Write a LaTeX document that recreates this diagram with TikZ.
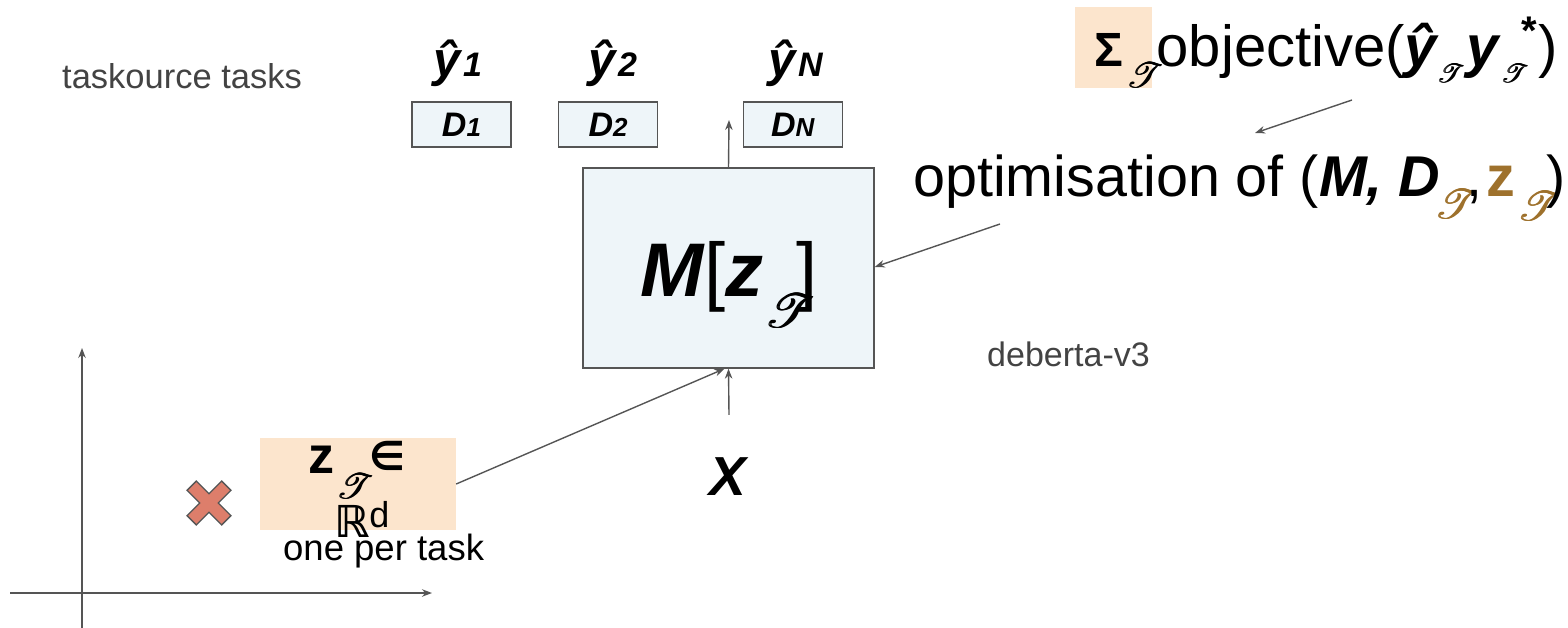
\RequirePackage{fix-cm}
\documentclass[tikz,border=0pt]{standalone}
\usepackage{graphicx}
\usepackage{amssymb}
\usepackage{mathrsfs}
\usepackage{fontspec}
\setmainfont{Liberation Sans}
\newfontfamily\djv{DejaVu Sans}
\usetikzlibrary{arrows.meta}
\definecolor{boxfill}{HTML}{EEF5F9}
\definecolor{linec}{HTML}{555555}
\definecolor{peach}{HTML}{FCE5CD}
\definecolor{brownc}{HTML}{9E712C}
\definecolor{crossc}{HTML}{DD7E6B}
\definecolor{graytext}{HTML}{434343}
\newcommand{\fs}[1]{\fontsize{#1}{#1}\selectfont}
\newcommand{\bit}[1]{\textbf{\textit{#1}}}
\newcommand{\oneT}[1]{\scalebox{#1}{\fs{10}$\mathscr{T}$}}
\newcommand{\bT}[2]{\raisebox{#2}{\rlap{\oneT{#1}}\kern0.7pt\rlap{\oneT{#1}}\kern0.7pt\oneT{#1}}}
\begin{document}
\begin{tikzpicture}[x=1pt,y=-1pt,
  arr/.style={draw=linec, line width=1.4pt, -{Stealth[length=10pt,width=7.5pt]}},
  dbox/.style={draw=linec, fill=boxfill, line width=1.4pt, minimum width=99pt, minimum height=45pt, inner sep=0pt},
  lbl/.style={inner sep=0pt, anchor=base west},
  ylbl/.style={inner sep=0pt, anchor=base},
  gtext/.style={inner sep=0pt, anchor=base west, text=graytext}]
\useasboundingbox (0,0) rectangle (1568,628);

% texts
\node[gtext, font=\fs{34.5}] (tasks) at (62,89) {taskource tasks};
\node[gtext, font=\fs{34}] (deb) at (987,366) {deberta-v3};

% D boxes
\node[dbox] (d1) at (461.5,124.5) {\fs{34}\bit{D}{\fs{26}\bit{1}}};
\node[dbox] (d2) at (608,124.5) {\fs{34}\bit{D}{\fs{26}\bit{2}}};
\node[dbox] (dN) at (793,124.5) {\fs{34}\bit{D}{\fs{26}\bit{N}}};

% y hats
\node[ylbl] (y1) at (458,77) {\fs{49}\bit{ŷ}{\fs{34}\bit{1}}};
\node[ylbl] (y2) at (613,77) {\fs{49}\bit{ŷ}{\fs{34}\bit{2}}};
\node[ylbl] (yN) at (796,77) {\fs{49}\bit{ŷ}{\fs{34}\bit{N}}};

% model box
\node[draw=linec, fill=boxfill, line width=1.4pt, minimum width=291pt, minimum height=200pt, inner sep=0pt] (m) at (728.5,268) {};
\node[lbl] (mt) at (640,297) {\fs{76}\bit{M}[\bit{z}\kern1pt\bT{4.75}{-30pt}\kern-19pt]};

% X
\node[ylbl] (x) at (729,495) {\fs{55}\bit{X}};

% z box
\node[fill=peach, minimum width=196pt, minimum height=92pt, inner sep=0pt] (z) at (358,484) {};
\node[lbl] (zt1) at (308,473) {\fs{52}\bfseries z\kern2pt\bT{3.5}{-25pt}\kern-4pt\raisebox{3pt}{\fs{40}\djv ∈}};
\node[lbl] (zt2) at (334,537) {{\fs{44}\djv\bfseries ℝ}\raisebox{10pt}{\fs{36}d}};
\node[lbl, font=\fs{36.5}] (opt1) at (283,560) {one per task};

% cross
\draw[draw=linec, fill=crossc, line width=1.3pt, rotate around={45:(209,503)}]
  (209,503) ++(6.5,6.5) -- ++(0,18) -- ++(-13,0) -- ++(0,-18) -- ++(-18,0) -- ++(0,-13)
  -- ++(18,0) -- ++(0,-18) -- ++(13,0) -- ++(0,18) -- ++(18,0) -- ++(0,13) -- cycle;

% optimisation text
\node[lbl] (opt) at (913,197) {\fs{57.5}optimisation of (\bit{M, D}\kern-6pt{\color{brownc}\bT{4.1}{-21pt}}\kern-12pt,\kern4pt{\color{brownc}\bfseries z}\kern2pt{\color{brownc}\bT{4.1}{-24pt}}\kern-15pt)};

% objective
\node[fill=peach, minimum width=77pt, minimum height=81pt, inner sep=0pt] (sig) at (1113.5,47.5) {};
\node[lbl] (obj) at (1094,67) {{\fs{48}\bfseries Σ}\kern3pt\bT{3.5}{-21pt}\kern-7pt{\fs{58}objective(\bit{ŷ}}\kern-3pt\bT{2.6}{-16pt}\kern1pt{\fs{58}\bit{y}}\kern0pt\bT{2.6}{-16pt}\kern-8pt\raisebox{22pt}{\fs{40}\bfseries *}\kern2pt{\fs{58})}};

% axes
\coordinate (ya0) at (82,628);
\coordinate (ya1) at (82,348);
\coordinate (xa0) at (10,593);
\coordinate (xa1) at (432,593);
\draw[arr] (ya0) -- (ya1);
\draw[arr] (xa0) -- (xa1);

% connectors
\coordinate (mout) at (729,120);
\draw[arr] (m.north) -- (mout);
\draw[arr] ([yshift=42pt]x.north) -- (m.south);
\draw[arr] (z.east) -- ([xshift=-4pt]m.south);
\coordinate (optsrc) at (1000,224);
\draw[arr] (optsrc) -- ([yshift=1pt]m.east);
\coordinate (objsrc) at (1352,100);
\coordinate (objdst) at (1255,133);
\draw[arr] (objsrc) -- (objdst);
\end{tikzpicture}
\end{document}
